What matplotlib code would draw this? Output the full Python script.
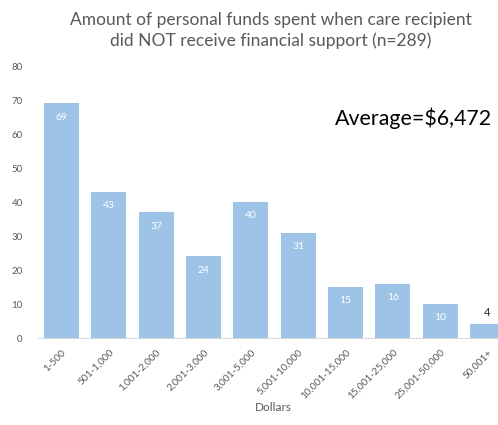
import numpy as np
import matplotlib.pyplot as plt
from matplotlib.transforms import ScaledTranslation

categories = ["1-500", "501-1,000", "1,001-2,000", "2,001-3,000", "3,001-5,000",
              "5,001-10,000", "10,001-15,000", "15,001-25,000", "25,001-50,000", "50,001+"]
counts = [69, 43, 37, 24, 40, 31, 15, 16, 10, 4]

plt.rcParams['font.family'] = ['Lato', 'DejaVu Sans']
gray = '#595959'

fig = plt.figure(figsize=(4.98, 4.25), dpi=100)
ax = fig.add_axes([0.0763, 0.2047, 0.950, 0.640])

x = np.arange(len(categories))
bars = ax.bar(x, counts, width=0.74, color='#9DC3E6')

ax.set_xlim(-0.5, len(categories) - 0.5)
ax.set_ylim(0, 80)
ax.set_yticks(range(0, 81, 10))
ax.set_xticks(x)
ax.set_xticklabels(categories, rotation=45, ha='right', rotation_mode='anchor',
                   fontsize=7.2, color=gray)
# shift rotated labels a little right like the original
offset = ScaledTranslation(5 / 100, 0, fig.dpi_scale_trans)
for lbl in ax.get_xticklabels():
    lbl.set_transform(lbl.get_transform() + offset)
ax.tick_params(axis='y', length=0, labelsize=7, labelcolor=gray, pad=11)
ax.tick_params(axis='x', length=0, pad=7)
for s in ['top', 'right', 'left']:
    ax.spines[s].set_visible(False)
ax.spines['bottom'].set_color('#d9d9d9')

# value labels
for xi, v in zip(x, counts):
    if v > 5:
        ax.text(xi, v - 4.1, str(v), ha='center', va='center', fontsize=7.5, color='white')
    else:
        ax.text(xi, v + 3.5, str(v), ha='center', va='center', fontsize=8, color='#262626')

ax.set_xlabel("Dollars", fontsize=8.5, color=gray, va='center')
ax.xaxis.set_label_coords(0.497, -0.254)

fig.text(0.543, 0.929, "Amount of personal funds spent when care recipient\ndid NOT receive financial support (n=289)",
         ha='center', va='center', fontsize=12.5, color=gray, linespacing=1.35)
fig.text(0.988, 0.722, "Average=$6,472", ha='right', va='center', fontsize=15.4, color='black')

fig.savefig('out.png', dpi=100)
